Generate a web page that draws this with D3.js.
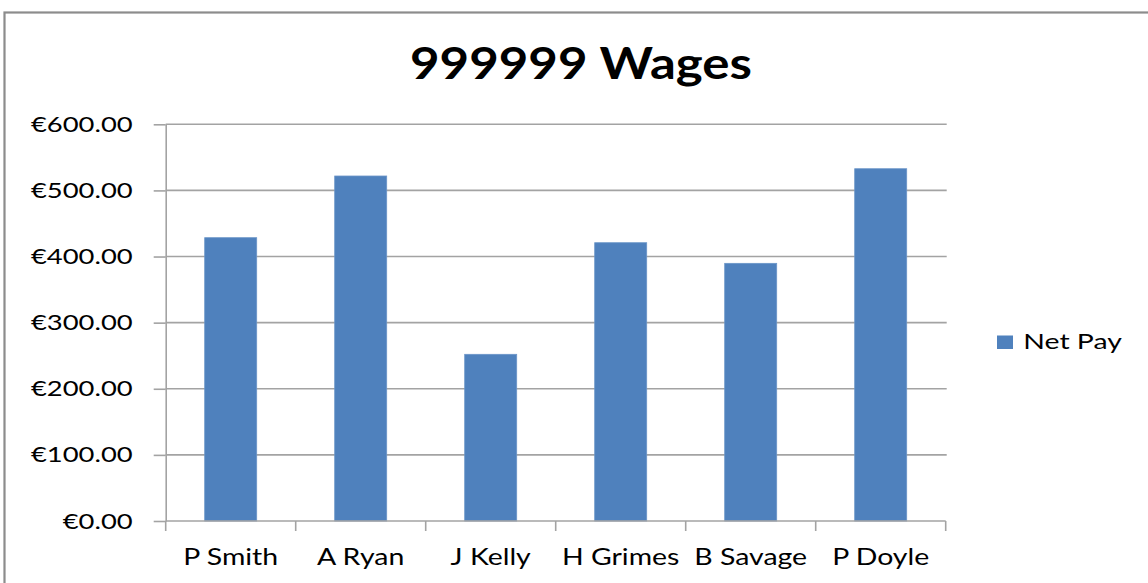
<!DOCTYPE html>
<html>
<head>
<meta charset="utf-8">
<script src="https://cdn.jsdelivr.net/npm/d3@7"></script>
<style>
  html, body { margin: 0; padding: 0; background: #ffffff; }
  svg { display: block; }
  text { font-family: Lato, "Open Sans", sans-serif; fill: #000; }
</style>
</head>
<body>
<script>
// ---- data ----
const title = "999999 Wages";
const seriesName = "Net Pay";
const categories = ["P Smith", "A Ryan", "J Kelly", "H Grimes", "B Savage", "P Doyle"];
const netPay = [428.5, 521.8, 252.1, 420.9, 389.7, 532.8];
const yTicks = [0, 100, 200, 300, 400, 500, 600];
const yTickLabels = ["€0.00", "€100.00", "€200.00", "€300.00", "€400.00", "€500.00", "€600.00"];

// ---- layout ----
const W = 1148, H = 583;
const plot = { left: 165.7, right: 945.7, top: 124.3, bottom: 521 };

const svg = d3.select("body").append("svg").attr("width", W).attr("height", H);

// chart frame
svg.append("rect")
  .attr("x", 4.5).attr("y", 12.5).attr("width", 1170).attr("height", 620)
  .attr("fill", "#fff").attr("stroke", "#8c8c8c").attr("stroke-width", 2.2);

const x = d3.scaleBand().domain(categories).range([plot.left, plot.right]).paddingInner(0).paddingOuter(0);
const y = d3.scaleLinear().domain([0, 600]).range([plot.bottom, plot.top]);

const gridColor = "#a3a3a3";

// horizontal gridlines
svg.append("g").selectAll("line").data(yTicks.filter(d => d > 0)).join("line")
  .attr("x1", plot.left).attr("x2", plot.right + 1)
  .attr("y1", d => y(d)).attr("y2", d => y(d))
  .attr("stroke", gridColor).attr("stroke-width", 1.6);

// y axis
const yAxis = d3.axisLeft(y).tickValues(yTicks).tickFormat((d, i) => yTickLabels[i])
  .tickSize(12).tickSizeOuter(0).tickPadding(21);
const yg = svg.append("g").attr("transform", `translate(${plot.left},0)`).call(yAxis);
yg.select(".domain").attr("stroke", gridColor).attr("stroke-width", 1.6);
yg.selectAll(".tick line").attr("stroke", gridColor).attr("stroke-width", 1.6);
yg.selectAll(".tick text").attr("font-size", 22).attr("fill", "#000")
  .attr("font-family", "Lato, 'Open Sans', sans-serif");

// bars
const barW = x.bandwidth() / 2.5;
svg.append("g").selectAll("rect").data(netPay).join("rect")
  .attr("x", (d, i) => x(categories[i]) + (x.bandwidth() - barW) / 2)
  .attr("width", barW)
  .attr("y", d => y(d))
  .attr("height", d => y(0) - y(d))
  .attr("fill", "#4f81bd")
  .attr("stroke", "#6b95c8").attr("stroke-width", 0.8);

// x axis
const xg = svg.append("g");
xg.append("line").attr("x1", plot.left).attr("x2", plot.right)
  .attr("y1", plot.bottom).attr("y2", plot.bottom)
  .attr("stroke", gridColor).attr("stroke-width", 1.6);
const bounds = categories.map(c => x(c)).concat([x(categories[categories.length - 1]) + x.bandwidth()]);
xg.selectAll("line.tk").data(bounds).join("line").attr("class", "tk")
  .attr("x1", d => d).attr("x2", d => d)
  .attr("y1", plot.bottom).attr("y2", plot.bottom + 10)
  .attr("stroke", gridColor).attr("stroke-width", 1.6);
const xl = xg.selectAll("text").data(categories).join("text")
  .attr("x", d => x(d) + x.bandwidth() / 2)
  .attr("y", 564.5)
  .attr("text-anchor", "middle")
  .attr("font-size", 23.5)
  .text(d => d);

// title
const tt = svg.append("text")
  .attr("x", 581).attr("y", 78.5)
  .attr("text-anchor", "middle")
  .attr("font-size", 44).attr("font-weight", "bold")
  .text(title);

// legend
svg.append("rect").attr("x", 997).attr("y", 335.5).attr("width", 16).attr("height", 13.5)
  .attr("fill", "#4f81bd");
const lt = svg.append("text").attr("x", 1023.3).attr("y", 348.5)
  .attr("font-size", 21.5).text(seriesName);

// horizontal stretch to mimic reference glyph widths
function stretch(sel, refText, targetWidth) {
  let k = 1;
  sel.each(function () {
    if (this.textContent === refText) k = targetWidth / this.getComputedTextLength();
  });
  sel.each(function () {
    const w = this.getComputedTextLength();
    d3.select(this).attr("textLength", w * k).attr("lengthAdjust", "spacingAndGlyphs");
  });
}
stretch(yg.selectAll(".tick text"), "€0.00", 70);
stretch(xl, "P Smith", 95);
stretch(tt, title, 342);
stretch(lt, seriesName, 98.5);
</script>
</body>
</html>
